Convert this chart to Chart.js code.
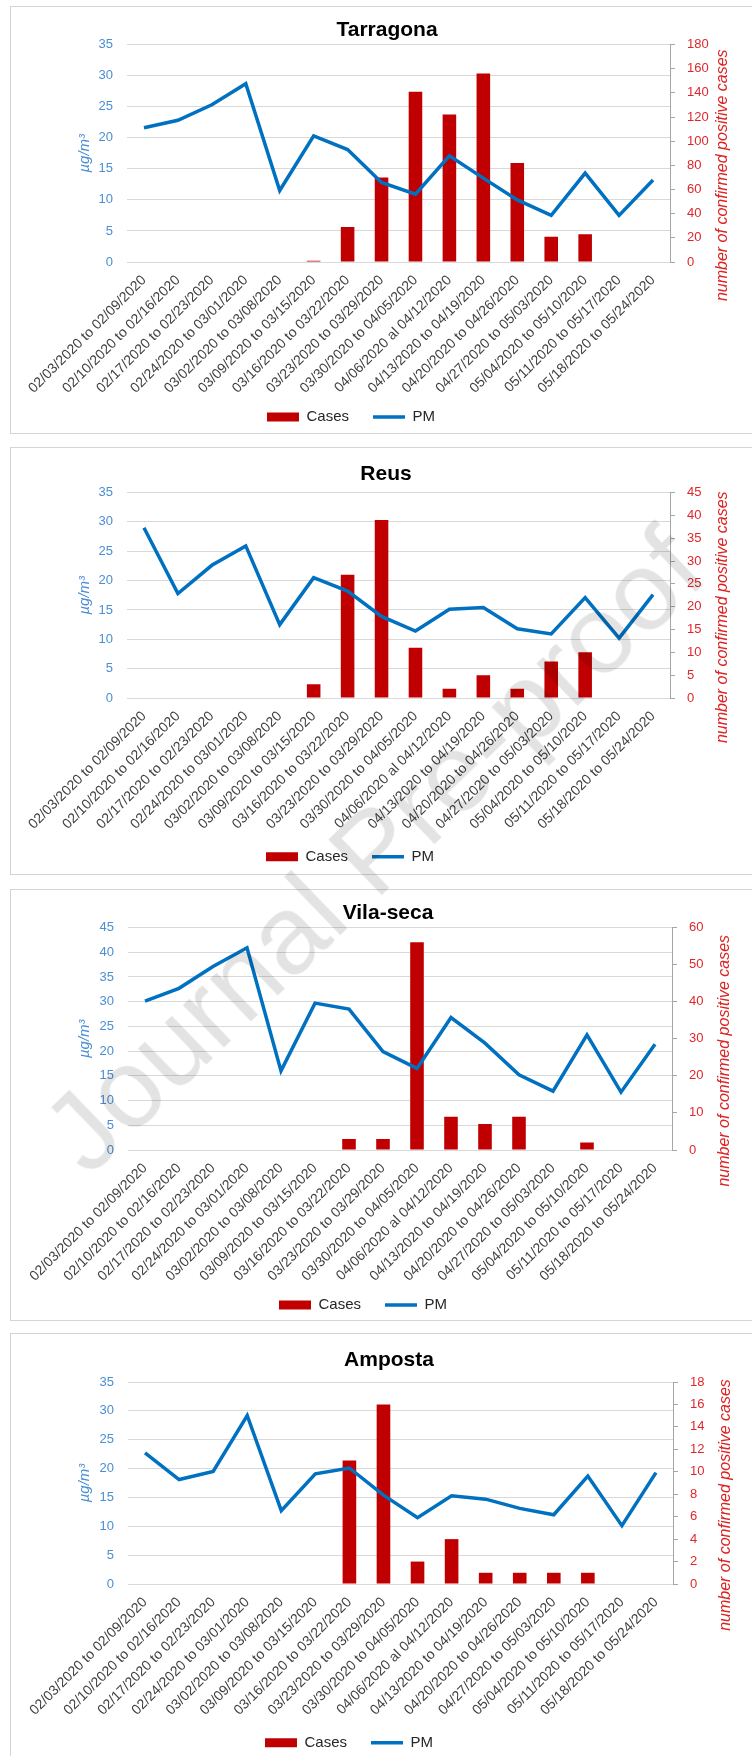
<!DOCTYPE html>
<html>
<head>
<meta charset="utf-8">
<title>Cases and PM by week</title>
<script src="https://cdn.jsdelivr.net/npm/chart.js@4.4.1/dist/chart.umd.min.js"></script>
<style>
  html, body { margin: 0; padding: 0; background: #fff; }
  body { position: relative; width: 752px; height: 1756px; overflow: hidden; font-family: "Liberation Sans", Arial, sans-serif; }
  .panel { position: absolute; left: 10px; width: 770px; border: 1px solid #d4d4d4; box-sizing: border-box; }
  canvas { position: absolute; left: 0; }
  .wm {
    position: absolute; left: 373px; top: 850px;
    transform: translate(-50%, -50%) rotate(-44deg);
    font-size: 112px; white-space: nowrap; color: rgba(0, 0, 0, 0.11);
    pointer-events: none; z-index: 5;
  }
</style>
</head>
<body>
<div class="wm">Journal Pre-proof</div>
<script>
const weeks = [
  "02/03/2020 to 02/09/2020", "02/10/2020 to 02/16/2020", "02/17/2020 to 02/23/2020",
  "02/24/2020 to 03/01/2020", "03/02/2020 to 03/08/2020", "03/09/2020 to 03/15/2020",
  "03/16/2020 to 03/22/2020", "03/23/2020 to 03/29/2020", "03/30/2020 to 04/05/2020",
  "04/06/2020 al 04/12/2020", "04/13/2020 to 04/19/2020", "04/20/2020 to 04/26/2020",
  "04/27/2020 to 05/03/2020", "05/04/2020 to 05/10/2020", "05/11/2020 to 05/17/2020",
  "05/18/2020 to 05/24/2020"
];

const tarragonaCases = [0, 0, 0, 0, 0, 1, 29, 70, 141, 122, 156, 82, 21, 23, 0, 0];
const tarragonaPM = [21.6, 22.8, 25.3, 28.7, 11.5, 20.3, 18.1, 12.8, 10.9, 17.1, 13.5, 10.0, 7.5, 14.3, 7.5, 13.2];

const reusCases = [0, 0, 0, 0, 0, 3, 27, 39, 11, 2, 5, 2, 8, 10, 0, 0];
const reusPM = [29.0, 17.8, 22.6, 25.9, 12.5, 20.5, 18.2, 13.9, 11.4, 15.1, 15.4, 11.8, 10.9, 17.1, 10.2, 17.6];

const vilasecaCases = [0, 0, 0, 0, 0, 0, 3, 3, 56, 9, 7, 9, 0, 2, 0, 0];
const vilasecaPM = [30.1, 32.7, 37.1, 40.9, 16.0, 29.7, 28.5, 19.9, 16.5, 26.8, 21.6, 15.2, 11.9, 23.3, 11.7, 21.4];

const ampostaCases = [0, 0, 0, 0, 0, 0, 11, 16, 2, 4, 1, 1, 1, 1, 0, 0];
const ampostaPM = [22.7, 18.1, 19.5, 29.2, 12.7, 19.1, 20.1, 15.4, 11.5, 15.3, 14.7, 13.1, 12.0, 18.7, 10.1, 19.3];

// axis ranges: [max, step]
const pmAxis = [[35, 5], [35, 5], [45, 5], [35, 5]];
const casesAxis = [[180, 20], [45, 5], [60, 10], [18, 2]];

const towns = ["Tarragona", "Reus", "Vila-seca", "Amposta"];
const casesData = [tarragonaCases, reusCases, vilasecaCases, ampostaCases];
const pmData = [tarragonaPM, reusPM, vilasecaPM, ampostaPM];

// page positions of each panel (px)
const panels = [
  { boxTop: 6, boxBottom: 434, titleY: 30, titleX: 387, top: 44.5, bottom: 262, legendY: 417, left: 127, right: 670, legendX: 351 },
  { boxTop: 447, boxBottom: 875, titleY: 474, titleX: 386, top: 492.5, bottom: 698.3, legendY: 856.7, left: 127, right: 670, legendX: 350 },
  { boxTop: 889, boxBottom: 1321, titleY: 913, titleX: 388, top: 927.5, bottom: 1150, legendY: 1305, left: 128, right: 672, legendX: 363 },
  { boxTop: 1333, boxBottom: 1790, titleY: 1360, titleX: 389, top: 1382, bottom: 1584.3, legendY: 1742.7, left: 128, right: 673, legendX: 349 }
];

const BLUE = "#0070C0";
const DARKRED = "#C00000";
const TICKBLUE = "#4a8ed4";
const TICKRED = "#e0262b";
const W = 752;
const LEGEND_PAD = 24;
const LEGEND_FONT = 15;
const X_AXIS_H = 160;

Chart.defaults.font.family = "'Liberation Sans', Arial, sans-serif";

const rightTitle = {
  id: "rightTitle",
  afterDraw(chart) {
    const { ctx, chartArea } = chart;
    ctx.save();
    ctx.translate(chartArea.right + 53, (chartArea.top + chartArea.bottom) / 2 + 22);
    ctx.rotate(-Math.PI / 2);
    ctx.font = "italic 16px 'Liberation Sans', Arial, sans-serif";
    ctx.fillStyle = "#dd2222";
    ctx.textAlign = "center";
    ctx.textBaseline = "middle";
    ctx.fillText("number of confirmed positive cases", 0, 0);
    ctx.restore();
  }
};

panels.forEach((g, i) => {
  const box = document.createElement("div");
  box.className = "panel";
  box.style.top = g.boxTop + "px";
  box.style.height = (g.boxBottom - g.boxTop) + "px";
  document.body.appendChild(box);

  const titleLH = 21 * 1.2;
  const padTop = g.titleY - g.boxTop - titleLH / 2;
  const padBottom = g.top - g.boxTop - padTop - titleLH;
  const legendH = LEGEND_FONT + LEGEND_PAD + 10;
  const canvasH = Math.round(g.bottom - g.boxTop + X_AXIS_H + legendH);
  const rightW = W - g.right;

  // put the legend and title where the reference has them
  const moveBoxes = {
    id: "moveBoxes",
    afterLayout(chart) {
      const lg = chart.legend;
      const dy = (g.legendY - g.boxTop - LEGEND_PAD - LEGEND_FONT / 2) - lg.top;
      const dx = g.legendX - (lg.left + lg.right) / 2;
      lg.top += dy; lg.bottom += dy;
      lg.left += dx; lg.right += dx;
      const tb = chart.titleBlock;
      const tdx = g.titleX - (tb.left + tb.right) / 2;
      tb.left += tdx; tb.right += tdx;
    }
  };

  const canvas = document.createElement("canvas");
  canvas.width = W;
  canvas.height = canvasH;
  canvas.style.top = g.boxTop + "px";
  document.body.appendChild(canvas);

  new Chart(canvas.getContext("2d"), {
    type: "bar",
    data: {
      labels: weeks,
      datasets: [
        {
          type: "bar",
          label: "Cases",
          data: casesData[i],
          backgroundColor: DARKRED,
          borderWidth: 0,
          yAxisID: "y1",
          categoryPercentage: 1,
          barPercentage: 0.4,
          order: 2
        },
        {
          type: "line",
          label: "PM",
          data: pmData[i],
          borderColor: BLUE,
          backgroundColor: BLUE,
          borderWidth: 3.5,
          pointRadius: 0,
          tension: 0,
          yAxisID: "y",
          order: 1
        }
      ]
    },
    options: {
      responsive: false,
      animation: false,
      layout: { padding: 0 },
      plugins: {
        title: {
          display: true,
          text: towns[i],
          color: "#000",
          font: { size: 21, weight: "bold" },
          padding: { top: padTop, bottom: padBottom }
        },
        legend: {
          position: "bottom",
          labels: {
            usePointStyle: true,
            pointStyleWidth: 32,
            boxHeight: 9,
            padding: LEGEND_PAD,
            color: "#262626",
            font: { size: LEGEND_FONT },
            sort: (a, b) => a.datasetIndex - b.datasetIndex,
            generateLabels(chart) {
              const items = Chart.defaults.plugins.legend.labels.generateLabels(chart);
              items.forEach(item => { item.pointStyle = item.datasetIndex === 0 ? "rect" : "line"; });
              return items;
            }
          }
        },
        tooltip: { enabled: false }
      },
      scales: {
        x: {
          grid: { display: false },
          border: { display: false },
          ticks: {
            autoSkip: false,
            minRotation: 45,
            maxRotation: 45,
            padding: 2,
            color: "#404040",
            font: { size: 14 }
          },
          afterFit(scale) { scale.height = X_AXIS_H; }
        },
        y: {
          position: "left",
          min: 0,
          max: pmAxis[i][0],
          ticks: { stepSize: pmAxis[i][1], padding: 14, color: TICKBLUE, font: { size: 13 } },
          grid: { color: "#d9d9d9", drawTicks: false },
          border: { display: false },
          title: {
            display: true,
            text: "µg/m³",
            color: TICKBLUE,
            font: { size: 15, style: "italic" },
            padding: { top: 76, bottom: 0 }
          },
          afterFit(scale) { scale.width = g.left; }
        },
        y1: {
          position: "right",
          min: 0,
          max: casesAxis[i][0],
          ticks: { stepSize: casesAxis[i][1], padding: 12, color: TICKRED, font: { size: 13 } },
          grid: { drawOnChartArea: false, drawTicks: true, tickLength: 5, color: "#a6a6a6" },
          border: { display: true, color: "#a6a6a6" },
          afterFit(scale) { scale.width = rightW; }
        }
      }
    },
    plugins: [rightTitle, moveBoxes]
  });
});
</script>
</body>
</html>
